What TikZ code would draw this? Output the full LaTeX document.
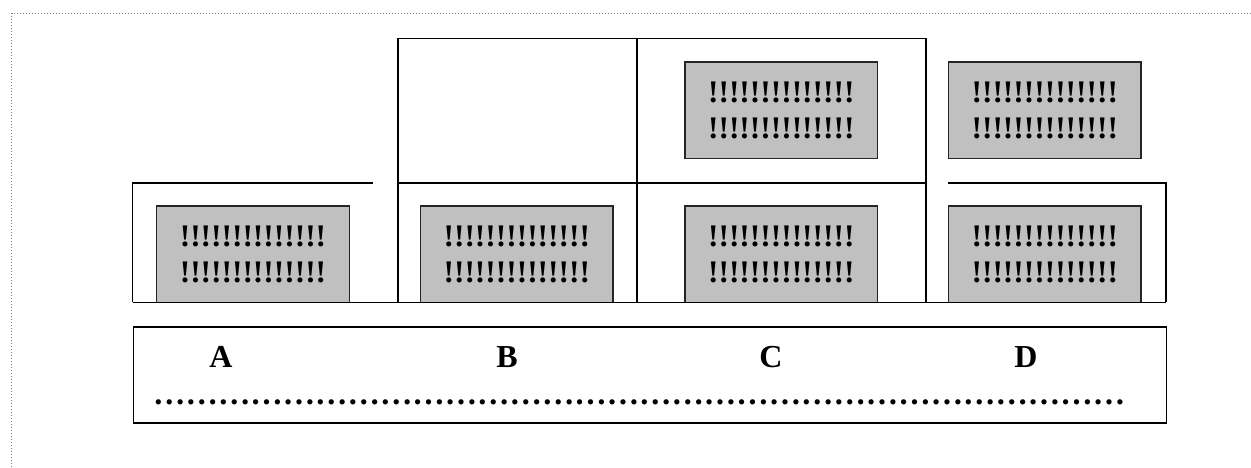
\documentclass[tikz,border=0pt]{standalone}
\usepackage{fontspec}
\setmainfont{Liberation Serif}
\newcommand{\gbox}[3]{%
  \node[graybox,anchor=north west] (#1) at (#2,#3) {};
  \node[bang] (#1a) at ([shift={(0,-8.15)}]#1.center) {!!!!!!!!!!!!!!};
  \node[bang] (#1b) at ([shift={(0,28.55)}]#1.center) {!!!!!!!!!!!!!!};}
\newcommand{\fiveell}{……………}
\begin{document}
\begin{tikzpicture}[x=1pt,y=-1pt,
  frame/.style={line width=1.6pt,black},
  graybox/.style={draw=black!85,line width=1.4pt,fill={rgb,255:red,192;green,192;blue,192},minimum width=192.6pt,minimum height=96.3pt,inner sep=0pt,outer sep=0pt},
  bang/.style={anchor=base,inner sep=0pt,font=\fontsize{31.4}{36}\selectfont\bfseries},
  lab/.style={anchor=base,inner sep=0pt,font=\fontsize{32}{36}\selectfont\bfseries}]
\useasboundingbox (0,0) rectangle (1251,467);
% dotted page border
\draw[gray,line width=0.9pt,dash pattern=on 1pt off 2pt] (11.7,467) -- (11.7,13.3) -- (1251,13.3);
% gray boxes
\gbox{ga}{156.7}{206}
\gbox{gb}{420.5}{206}
\gbox{gc}{685}{206}
\gbox{gct}{685}{62}
\gbox{gd}{948.5}{206}
\gbox{gdt}{948.5}{62}
% frames
\draw[frame] (132.5,302.3) -- (132.5,182.7) -- (373,182.7);
\draw[frame] (398,302.3) -- (398,38.3) -- (925.7,38.3) -- (925.7,302.3);
\draw[frame] (637,38.3) -- (637,302.3);
\draw[frame] (398,182.7) -- (925.7,182.7);
\draw[frame] (948,182.7) -- (1165.7,182.7) -- (1165.7,302.3);
\draw[frame] (132.5,302.3) -- (1165.7,302.3);
% bottom box
\node[draw,line width=1.6pt,anchor=north west,minimum width=1033.2pt,minimum height=96pt,inner sep=0pt] (legend) at (132.5,326) {};
\node[lab] (la) at (221,367) {A};
\node[lab] (lb) at (507,367) {B};
\node[lab] (lc) at (771,367) {C};
\node[lab] (ld) at (1026,367) {D};
\node[lab,anchor=base west,font=\fontsize{32.4}{36}\selectfont\bfseries] (dots) at (153,404) {\fiveell\fiveell\fiveell\fiveell\fiveell\fiveell};
\end{tikzpicture}
\end{document}
